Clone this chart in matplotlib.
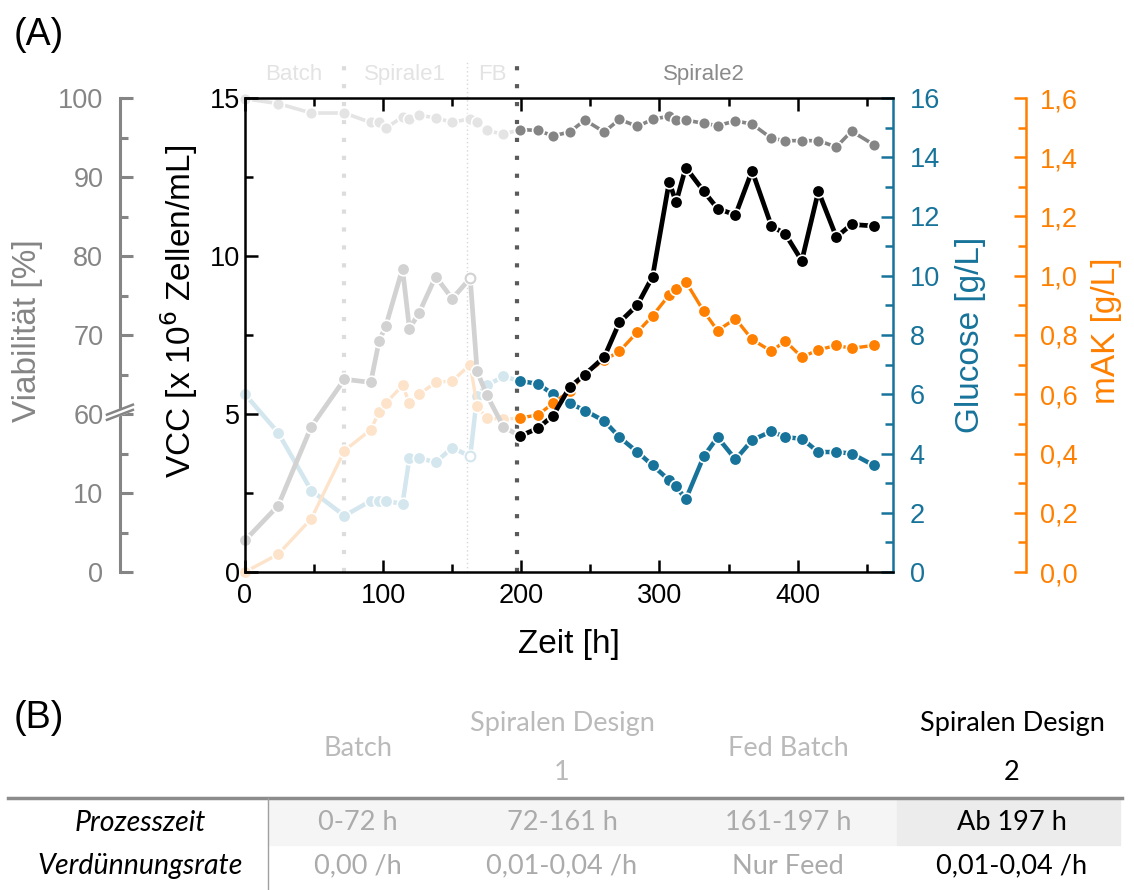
import matplotlib
matplotlib.use("Agg")
import matplotlib.pyplot as plt
from matplotlib.ticker import MultipleLocator, FixedLocator, FuncFormatter
from matplotlib.patches import Rectangle

plt.rcParams['font.family'] = ['Liberation Sans', 'DejaVu Sans']

# Messdaten: Zeit [h], VCC [1e6 Zellen/mL], Glucose [g/L], mAK [g/L], Viabilitaet [%]
zeit = [0, 24, 48, 72, 91, 97, 102, 114, 119, 126, 138, 150, 163, 168, 175, 187,
        199, 212, 223, 235, 246, 260, 271, 284, 295, 307, 312, 319, 332, 342,
        355, 367, 381, 391, 403, 415, 428, 439, 455]
vcc = [1.0, 2.1, 4.6, 6.1, 6.0, 7.3, 7.8, 9.6, 7.7, 8.2, 9.35, 8.65, 9.3, 6.35, 5.6, 4.6,
       4.3, 4.55, 4.95, 5.85, 6.25, 6.8, 7.9, 8.45, 9.35, 12.35, 11.7, 12.8, 12.05, 11.5,
       11.3, 12.7, 10.95, 10.7, 9.85, 12.05, 10.6, 11.0, 10.95]
glucose = [6.0, 4.7, 2.75, 1.9, 2.4, 2.4, 2.4, 2.3, 3.85, 3.85, 3.7, 4.2, 3.9, 5.95, 6.3, 6.6,
           6.45, 6.35, 6.0, 5.7, 5.45, 5.1, 4.55, 4.05, 3.6, 3.1, 2.9, 2.45, 3.9, 4.55,
           3.8, 4.45, 4.75, 4.55, 4.5, 4.05, 4.05, 4.0, 3.6]
mak = [0.0, 0.06, 0.18, 0.41, 0.48, 0.54, 0.57, 0.63, 0.57, 0.60, 0.64, 0.645, 0.70, 0.56,
       0.52, 0.515, 0.52, 0.53, 0.57, 0.61, 0.67, 0.715, 0.745, 0.81, 0.865, 0.935, 0.955,
       0.98, 0.88, 0.815, 0.855, 0.785, 0.745, 0.78, 0.725, 0.75, 0.765, 0.755, 0.765]
viab = [99.9, 99.3, 98.1, 98.1, 96.9, 96.9, 96.2, 97.6, 97.3, 97.8, 97.5, 96.9, 97.4, 96.9,
        95.9, 95.4, 96.0, 95.9, 95.2, 95.7, 97.2, 95.7, 97.3, 96.4, 97.3, 97.7, 97.2, 97.2,
        96.8, 96.5, 97.1, 96.7, 94.9, 94.6, 94.6, 94.6, 93.8, 95.8, 94.1]

# Prozessphasen
grenzen = [72, 161, 197]
phasen = ['Batch', 'Spirale1', 'FB', 'Spirale2']
phasen_t = [35, 116, 179, 332]
phasen_farbe = ['#e3e3e3', '#e3e3e3', '#e3e3e3', '#8a8a8a']

# Tabelle (B)
spalten_kopf = [['Batch'], ['Spiralen Design', '1'], ['Fed Batch'], ['Spiralen Design', '2']]
zeilen = ['Prozesszeit', 'Verdünnungsrate']
prozesszeit = ['0-72 h', '72-161 h', '161-197 h', 'Ab 197 h']
verduennung = ['0,00 /h', '0,01-0,04 /h', 'Nur Feed', '0,01-0,04 /h']

k = 16  # erster Messpunkt der Phase Spirale2

c_vcc, c_glc, c_mak, c_via = 'black', '#17739a', '#ff8000', '#858585'
f_vcc, f_glc, f_mak, f_via = '#d2d2d2', '#d4e6ee', '#fde3c9', '#e4e4e4'

W, H = 1134, 890
fig = plt.figure(figsize=(W / 100, H / 100), dpi=100)


def fx(x):
    return x / W


def fy(y):
    return 1 - y / H


ax = fig.add_axes([fx(245), fy(572), 648 / W, 474 / H])
ax_glc = ax.twinx()
ax_mak = ax.twinx()
ax_via = ax.twinx()
ax_via.set_zorder(1)
ax_glc.set_zorder(2)
ax_mak.set_zorder(3)
ax.set_zorder(5)
ax.patch.set_visible(False)

tick_fs = 19.5
lab_fs = 24


def kurve(a, y, farbe_alt, farbe, lw, ms):
    a.plot(zeit[:k + 1], y[:k + 1], '-o', color=farbe_alt, lw=lw, ms=ms,
           mec='white', mew=1.2, clip_on=False)
    a.plot(zeit[k:], y[k:], '-o', color=farbe, lw=lw, ms=ms,
           mec='white', mew=1.2, clip_on=False)


viab_t = [v - 40 for v in viab]  # Achsenbruch 10 -> 60
kurve(ax_via, viab_t, f_via, c_via, 2.6, 8.5)
kurve(ax_glc, glucose, f_glc, c_glc, 3.2, 9)
ax_glc.plot([zeit[12]], [glucose[12]], 'o', ms=7, mfc='white', mec=f_glc, mew=1.5)
kurve(ax_mak, mak, f_mak, c_mak, 2.4, 9)
kurve(ax, vcc, f_vcc, c_vcc, 3.4, 9)
ax.plot([zeit[12]], [vcc[12]], 'o', ms=7, mfc='white', mec=f_vcc, mew=1.5)

# Phasengrenzen
ax_via.axvline(72, ymin=0, ymax=1.08, color='#dcdcdc', lw=3, ls=(0, (1, 3.3)),
               clip_on=False, zorder=0)
ax_via.axvline(161, ymin=0, ymax=1.08, color='#d8d8d8', lw=1, ls=(0, (1, 2)),
               clip_on=False, zorder=0)
ax_via.axvline(197, ymin=0, ymax=1.08, color='#5a5a5a', lw=3, ls=(0, (1, 3.3)),
               clip_on=False, zorder=0)
for name, t, c in zip(phasen, phasen_t, phasen_farbe):
    ax.text(t, 1.049, name, transform=ax.get_xaxis_transform(), ha='center',
            va='center', fontsize=16, color=c)

# VCC-Achse
ax.set_xlim(0, 469)
ax.set_ylim(0, 15)
ax.xaxis.set_major_locator(MultipleLocator(100))
ax.xaxis.set_minor_locator(MultipleLocator(50))
ax.yaxis.set_major_locator(MultipleLocator(5))
ax.yaxis.set_minor_locator(MultipleLocator(2.5))
ax.tick_params(which='both', direction='in', top=True, width=1.8, labelsize=tick_fs)
ax.tick_params(which='major', length=9)
ax.tick_params(which='minor', length=6)
ax.tick_params(axis='x', pad=8)
for s in ['left', 'bottom', 'top']:
    ax.spines[s].set_linewidth(1.8)
ax.spines['right'].set_visible(False)
ax.set_xlabel('Zeit [h]', fontsize=lab_fs, labelpad=14)
ax.set_ylabel('VCC [x 10$^6$ Zellen/mL]', fontsize=lab_fs)
ax.yaxis.set_label_coords(-0.069, 0.55)
fig.canvas.draw()
for tk, loc in zip(ax.xaxis.get_major_ticks(), ax.xaxis.get_majorticklocs()):
    if loc < 197:
        tk.tick1line.set_color('#d6d6d6')
for tk, loc in zip(ax.xaxis.get_minor_ticks(), ax.xaxis.get_minorticklocs()):
    if loc < 197:
        tk.tick1line.set_color('#d6d6d6')

# Glucose-Achse
ax_glc.set_ylim(0, 16)
ax_glc.yaxis.set_major_locator(MultipleLocator(2))
ax_glc.yaxis.set_minor_locator(MultipleLocator(1))
ax_glc.tick_params(which='both', direction='in', colors=c_glc, width=1.8,
                   labelsize=tick_fs, pad=12)
ax_glc.tick_params(which='major', length=9)
ax_glc.tick_params(which='minor', length=6)
for s in ['left', 'bottom', 'top']:
    ax_glc.spines[s].set_visible(False)
ax_glc.spines['right'].set_color(c_glc)
ax_glc.spines['right'].set_linewidth(1.8)
ax_glc.set_ylabel('Glucose [g/L]', fontsize=lab_fs, color=c_glc)
ax_glc.yaxis.set_label_coords(1.096, 0.5)

# mAK-Achse
komma = FuncFormatter(lambda v, p: f'{v:.1f}'.replace('.', ','))
ax_mak.set_ylim(0, 1.6)
ax_mak.spines['right'].set_position(('axes', 1.205))
for s in ['left', 'bottom', 'top']:
    ax_mak.spines[s].set_visible(False)
ax_mak.spines['right'].set_color(c_mak)
ax_mak.spines['right'].set_linewidth(1.8)
ax_mak.yaxis.set_major_locator(MultipleLocator(0.2))
ax_mak.yaxis.set_minor_locator(MultipleLocator(0.1))
ax_mak.yaxis.set_major_formatter(komma)
ax_mak.tick_params(which='both', direction='in', colors=c_mak, width=1.8,
                   labelsize=tick_fs, pad=10)
ax_mak.tick_params(which='major', length=9)
ax_mak.tick_params(which='minor', length=6)
ax_mak.set_ylabel('mAK [g/L]', fontsize=lab_fs, color=c_mak)
ax_mak.yaxis.set_label_coords(1.306, 0.51)

# Viabilitaet mit Achsenbruch
ax_via.set_ylim(0, 60)
for s in ['right', 'bottom', 'top']:
    ax_via.spines[s].set_visible(False)
ax_via.spines['left'].set_visible(True)
ax_via.spines['left'].set_position(('axes', -0.193))
ax_via.spines['left'].set_color(c_via)
ax_via.spines['left'].set_linewidth(2.2)
ax_via.yaxis.set_ticks_position('left')
ax_via.yaxis.set_label_position('left')
ax_via.yaxis.set_major_locator(FixedLocator([0, 10, 20, 30, 40, 50, 60]))
ax_via.yaxis.set_minor_locator(FixedLocator([5, 15, 25, 35, 45, 55]))
ax_via.set_yticklabels(['0', '10', '60', '70', '80', '90', '100'])
ax_via.tick_params(which='both', direction='in', colors=c_via, width=2.2,
                   labelsize=tick_fs, pad=12)
ax_via.tick_params(which='major', length=9)
ax_via.tick_params(which='minor', length=6)
ax_via.set_ylabel('Viabilität [%]', fontsize=lab_fs, color=c_via)
ax_via.yaxis.set_label_coords(-0.312, 0.51)
bx = [-0.213, -0.173]
ax_via.plot(bx, [0.326, 0.347], color='white', lw=5, transform=ax_via.transAxes,
            clip_on=False, zorder=5)
for dy in (0.0, 0.011):
    ax_via.plot(bx, [0.321 + dy, 0.342 + dy], color=c_via, lw=1.8,
                transform=ax_via.transAxes, clip_on=False, zorder=6)

fig.text(fx(14), fy(35), '(A)', fontsize=27, va='center', ha='left')
fig.text(fx(14), fy(718), '(B)', fontsize=27, va='center', ha='left')

# Tabelle
tab_font = ['Lato', 'DejaVu Sans']
tab_fs = 19.5
spalten_x = [358, 562, 788, 1012]
fig.patches.append(Rectangle((fx(268), fy(845)), (897 - 268) / W, 45 / H,
                             transform=fig.transFigure, color='#f5f5f5', zorder=0))
fig.patches.append(Rectangle((fx(897), fy(845)), (1120 - 897) / W, 45 / H,
                             transform=fig.transFigure, color='#ececec', zorder=0))
fig.add_artist(plt.Line2D([fx(8), fx(1122)], [fy(798), fy(798)], color='#8c8c8c',
                          lw=2.5, transform=fig.transFigure))
fig.add_artist(plt.Line2D([fx(268), fx(268)], [fy(798), fy(890)], color='#a0a0a0',
                          lw=1, transform=fig.transFigure))
for i, (kopf, x) in enumerate(zip(spalten_kopf, spalten_x)):
    farbe = 'black' if i == 3 else '#bababa'
    if len(kopf) == 1:
        fig.text(fx(x), fy(748), kopf[0], ha='center', va='center', fontsize=tab_fs,
                 color=farbe, family=tab_font)
    else:
        fig.text(fx(x), fy(724), kopf[0], ha='center', va='center', fontsize=tab_fs,
                 color=farbe, family=tab_font)
        fig.text(fx(x), fy(772), kopf[1], ha='center', va='center', fontsize=tab_fs,
                 color=farbe, family=tab_font)
    fig.text(fx(x), fy(823), prozesszeit[i], ha='center', va='center', fontsize=tab_fs,
             color=farbe if i == 3 else '#ababab', family=tab_font)
    fig.text(fx(x), fy(866), verduennung[i], ha='center', va='center', fontsize=tab_fs,
             color=farbe if i == 3 else '#ababab', family=tab_font)
for name, y in zip(zeilen, [823, 866]):
    fig.text(fx(140), fy(y), name, ha='center', va='center', fontsize=20.5,
             style='italic', family=tab_font)

fig.savefig('out.png', dpi=100)
